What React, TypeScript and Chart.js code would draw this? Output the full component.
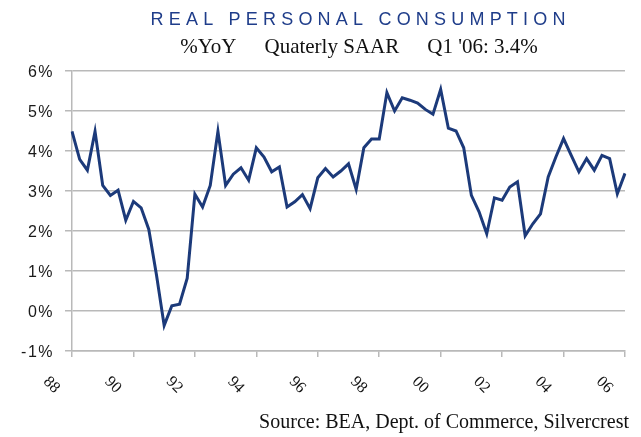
import React, { useEffect, useRef } from 'react';
import { Chart, registerables } from 'chart.js';

Chart.register(...registerables);

// Quarterly categories 1988 Q1 .. 2006 Q1
const startYear = 1988;
const endYear = 2006;
const quarterLabels: string[] = [];
for (let y = startYear; y <= endYear; y++) {
  for (let q = 1; q <= 4; q++) {
    if (y === endYear && q > 1) break;
    quarterLabels.push(`${y} Q${q}`);
  }
}

// Real personal consumption, %YoY
const consumptionYoY: number[] = [
  4.49, 3.79, 3.52, 4.49, 3.14, 2.89, 3.02, 2.27, 2.74, 2.58, 2.04, 0.9,
  -0.36, 0.13, 0.17, 0.82, 2.92, 2.6, 3.14, 4.49, 3.14, 3.42, 3.58, 3.27,
  4.08, 3.85, 3.48, 3.6, 2.6, 2.73, 2.91, 2.56, 3.33, 3.56, 3.35, 3.5,
  3.68, 3.04, 4.08, 4.3, 4.3, 5.46, 5.0, 5.33, 5.27, 5.2, 5.04, 4.92,
  5.54, 4.57, 4.5, 4.08, 2.89, 2.48, 1.93, 2.83, 2.77, 3.1, 3.23, 1.88,
  2.18, 2.43, 3.35, 3.85, 4.31, 3.89, 3.48, 3.81, 3.52, 3.89, 3.81, 2.93, 3.44,
];

// X tick labels, one every 8 quarters (2 years)
const yearTickLabels: string[] = ['88', '90', '92', '94', '96', '98', '00', '02', '04', '06'];

const titleText = 'REAL PERSONAL CONSUMPTION';
const subtitleParts: string[] = ['%YoY', 'Quaterly SAAR', "Q1 '06: 3.4%"];
const sourceText = 'Source: BEA, Dept. of Commerce, Silvercrest';

const GRID = '#b9b9b9';
const NAVY = '#1c3a7a';

const textPlugin = {
  id: 'customText',
  beforeDraw(chart: any) {
    chart.ctx.letterSpacing = '1.5px';
  },
  afterDraw(chart: any) {
    const ctx = chart.ctx as CanvasRenderingContext2D;
    ctx.save();
    // title
    (ctx as any).letterSpacing = '5.2px';
    ctx.font = '18px "Liberation Sans", Arial, sans-serif';
    ctx.fillStyle = '#1f3d8a';
    ctx.textAlign = 'center';
    ctx.textBaseline = 'alphabetic';
    ctx.fillText(titleText, 358 + 2.6, 25);

    // subtitle
    (ctx as any).letterSpacing = '0px';
    ctx.font = '21px "Liberation Serif", "Times New Roman", serif';
    ctx.fillStyle = '#111111';
    ctx.textAlign = 'left';
    const gap = 28;
    const widths = subtitleParts.map((p) => ctx.measureText(p).width);
    const total = widths.reduce((a, b) => a + b, 0) + gap * (subtitleParts.length - 1);
    let x = 359 - total / 2;
    subtitleParts.forEach((p, i) => {
      ctx.fillText(p, x, 53);
      x += widths[i] + gap;
    });

    // source
    ctx.font = '20px "Liberation Serif", "Times New Roman", serif';
    ctx.textAlign = 'right';
    ctx.fillText(sourceText, 629, 428);

    // rotated x tick labels
    const xs = chart.scales.x;
    ctx.font = '16px "Liberation Serif", "Times New Roman", serif';
    ctx.fillStyle = '#111111';
    ctx.textAlign = 'center';
    ctx.textBaseline = 'middle';
    xs.ticks.forEach((_t: any, i: number) => {
      if (i % 8 !== 0) return;
      const label = yearTickLabels[i / 8];
      if (label === undefined) return;
      const px = xs.getPixelForTick(i);
      ctx.save();
      ctx.translate(px - 20.5, 385);
      ctx.rotate(Math.PI / 4);
      ctx.fillText(label, 0, 0);
      ctx.restore();
    });
    ctx.restore();
  },
};

export default function App() {
  const canvasRef = useRef<HTMLCanvasElement | null>(null);

  useEffect(() => {
    if (!canvasRef.current) return;
    const chart = new Chart(canvasRef.current, {
      type: 'line',
      data: {
        labels: quarterLabels,
        datasets: [
          {
            data: consumptionYoY,
            borderColor: NAVY,
            borderWidth: 3,
            pointRadius: 0,
            tension: 0,
            fill: false,
          },
        ],
      },
      options: {
        animation: false,
        responsive: false,
        devicePixelRatio: 1,
        layout: { padding: { top: 71, right: 16, bottom: 0, left: 0 } },
        plugins: {
          legend: { display: false },
          tooltip: { enabled: false },
          title: { display: false },
        },
        scales: {
          x: {
            type: 'category',
            offset: false,
            ticks: { display: false, autoSkip: false },
            grid: {
              drawOnChartArea: false,
              drawTicks: true,
              tickLength: 6,
              lineWidth: 1.5,
              color: (c: any) => (c.index % 8 === 0 ? GRID : 'rgba(0,0,0,0)'),
            },
            border: { color: GRID, width: 1.5 },
            afterFit: (s: any) => {
              s.height = 86;
            },
          },
          y: {
            min: -1,
            max: 6,
            ticks: {
              stepSize: 1,
              padding: 11,
              labelOffset: 2,
              color: '#1a1a1a',
              font: { family: '"Liberation Sans", Arial, sans-serif', size: 16 },
              callback: (v: any) => `${v}%`,
            },
            grid: { color: GRID, lineWidth: 1.5, tickLength: 7 },
            border: { color: GRID, width: 1.5 },
            afterFit: (s: any) => {
              s.width = 72;
            },
          },
        },
      },
      plugins: [textPlugin],
    });
    return () => chart.destroy();
  }, []);

  return (
    <div style={{ position: 'fixed', left: 0, top: 0, width: 641, height: 437, background: '#fff' }}>
      <canvas ref={canvasRef} width={641} height={437} style={{ width: 641, height: 437, display: 'block' }} />
    </div>
  );
}
